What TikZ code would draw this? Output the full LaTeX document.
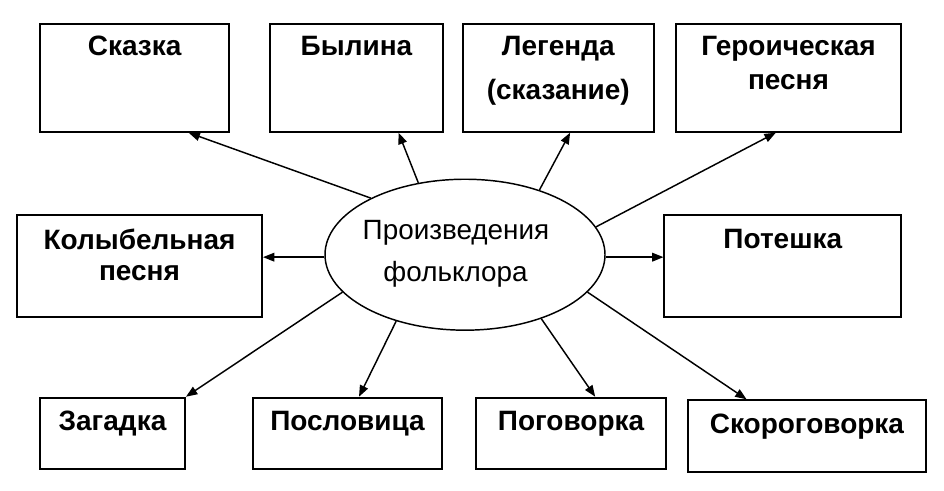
\documentclass[tikz,border=0pt]{standalone}
\usepackage{fontspec}
\setmainfont{Liberation Sans}
\usetikzlibrary{arrows.meta,calc,shapes.geometric}
\begin{document}
\begin{tikzpicture}[x=0.75pt,y=-0.75pt,
  box/.style={draw=black,line width=1.5pt,inner sep=0pt,rectangle},
  lbl/.style={anchor=base,inner sep=0pt,font=\fontsize{21}{25}\selectfont\bfseries},
  etxt/.style={anchor=base,inner sep=0pt,font=\fontsize{20.9}{25}\selectfont},
  arr/.style={line width=1.1pt,-{Triangle[length=8.5pt,width=6.5pt]}}]
\useasboundingbox (0,0) rectangle (944,490);
% boxes
\node[box,minimum width=141.5pt,minimum height=81pt] (skazka) at (134.65,77.7) {};
\node[box,minimum width=129.75pt,minimum height=81pt] (bylina) at (356.5,77.7) {};
\node[box,minimum width=143pt,minimum height=81pt] (legenda) at (558.35,77.7) {};
\node[box,minimum width=168.75pt,minimum height=81pt] (geroi) at (788.5,77.7) {};
\node[box,minimum width=183.75pt,minimum height=76.7pt] (kolyb) at (139.5,266.15) {};
\node[box,minimum width=177.4pt,minimum height=76.7pt] (potesh) at (782.75,266.15) {};
\node[box,minimum width=108.75pt,minimum height=53.25pt] (zagad) at (112.5,433.2) {};
\node[box,minimum width=142.2pt,minimum height=53.25pt] (poslov) at (347.5,433.2) {};
\node[box,minimum width=142.5pt,minimum height=53.25pt] (pogov) at (571,433.2) {};
\node[box,minimum width=178.7pt,minimum height=53.8pt] (skor) at (806.85,436.15) {};
% labels
\node[lbl] (tSkazka) at (134.7,55) {Сказка};
\node[lbl] (tBylina) at (356.5,55) {Былина};
\node[lbl] (tLeg1) at (558.3,55) {Легенда};
\node[lbl] (tLeg2) at (558.3,99) {(сказание)};
\node[lbl] (tGer1) at (788.5,55) {Героическая};
\node[lbl] (tGer2) at (788.5,89.3) {песня};
\node[lbl] (tKol1) at (139.5,249.3) {Колыбельная};
\node[lbl] (tKol2) at (139.5,280) {песня};
\node[lbl] (tPot) at (782.8,248.3) {Потешка};
\node[lbl] (tZag) at (112.5,430) {Загадка};
\node[lbl] (tPosl) at (347.5,430) {Пословица};
\node[lbl] (tPog) at (571,430) {Поговорка};
\node[lbl] (tSkor) at (806.9,433.3) {Скороговорка};
% ellipse
\node[draw=black,line width=1.1pt,ellipse,inner sep=0pt,
      minimum width=210pt,minimum height=113.2pt] (ell) at (465,254.7) {};
\node[etxt] (e1) at (456,239.3) {Произведения};
\node[etxt] (e2) at (455.5,281.7) {фольклора};
% arrows
\draw[arr] (ell.149) -- ($(skazka.south west)!0.783!(skazka.south east)$);
\draw[arr] (ell.123) -- ($(bylina.south west)!0.74!(bylina.south east)$);
\draw[arr] (ell.41) -- ($(legenda.south west)!0.561!(legenda.south east)$);
\draw[arr] (ell.12) -- ($(geroi.south west)!0.444!(geroi.south east)$);
\draw[arr] (ell.181) -- (kolyb.east|-ell.181);
\draw[arr] (ell.359) -- (potesh.west|-ell.359);
\draw[arr] (ell.197) -- (zagad.north east);
\draw[arr] (ell.224) -- ($(poslov.north west)!0.56!(poslov.north east)$);
\draw[arr] (ell.320) -- ($(pogov.north west)!0.626!(pogov.north east)$);
\draw[arr] (ell.343) -- ($(skor.north west)!0.249!(skor.north east)$);
\end{tikzpicture}
\end{document}
